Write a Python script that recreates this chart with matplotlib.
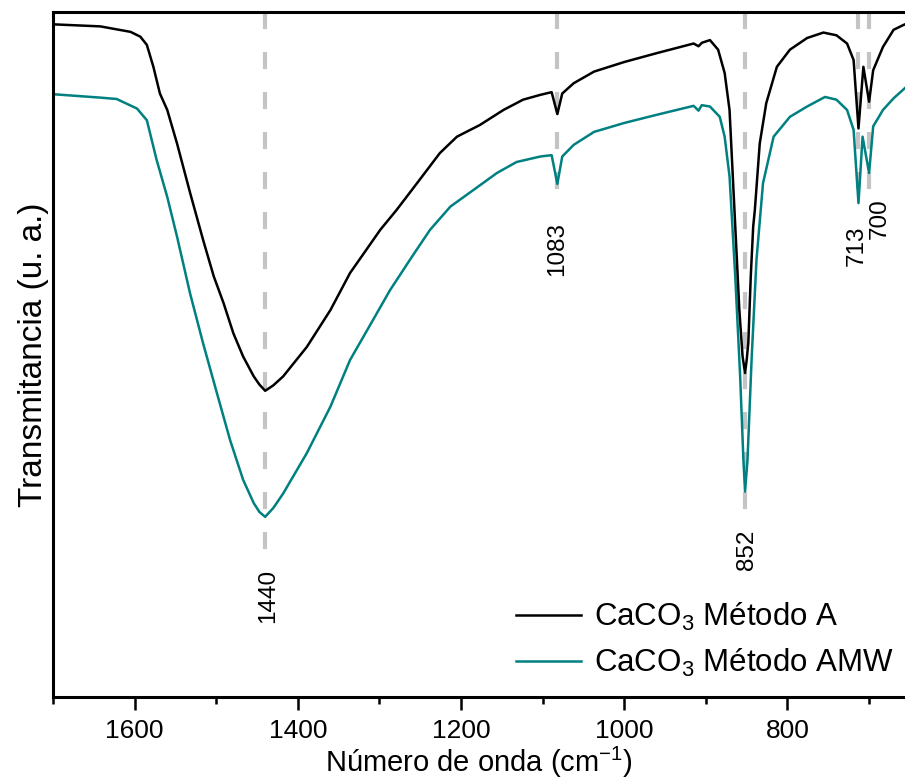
import matplotlib
matplotlib.use("Agg")
import matplotlib.pyplot as plt
from matplotlib.ticker import MultipleLocator

plt.rcParams['font.family'] = ['Liberation Sans', 'DejaVu Sans']
plt.rcParams['mathtext.fontset'] = 'custom'
plt.rcParams['mathtext.rm'] = 'Liberation Sans'
plt.rcParams['mathtext.it'] = 'Liberation Sans:italic'

# Wavenumbers (cm^-1) and transmittance (a.u.)
wn_a = [1700, 1642, 1605, 1593, 1585, 1577, 1569, 1560, 1548, 1532, 1516, 1503, 1491,
        1479, 1467, 1454, 1447, 1440, 1430, 1418, 1389, 1360, 1336, 1316, 1299, 1279, 1254, 1226, 1205,
        1177, 1148, 1124, 1103, 1089, 1082, 1076, 1062, 1037, 1000, 960, 915, 909, 905,
        895, 885, 877, 871, 867, 863, 859, 855, 852, 850, 848, 845, 842, 840, 834, 826,
        813, 797, 776, 756, 740, 727, 719, 713, 707, 700, 695, 683, 670, 658, 656]
tr_a = [98.2, 97.9, 97.1, 96.4, 95.2, 92.0, 88.1, 85.7, 80.8, 73.6, 66.7, 61.4, 57.5,
        53.1, 49.7, 46.8, 45.6, 44.7, 45.5, 46.8, 51.1, 56.5, 61.9, 65.3, 68.2, 71.1, 75.0, 79.4, 81.8,
        83.5, 85.7, 87.2, 87.9, 88.3, 85.1, 88.1, 89.6, 91.3, 92.7, 94.0, 95.4, 95.0, 95.5,
        95.9, 94.5, 91.1, 85.7, 76.0, 66.3, 56.5, 49.7, 47.3, 49.2, 51.7, 61.4, 68.7, 71.1, 80.8, 86.7,
        92.0, 94.5, 96.2, 97.0, 96.6, 95.4, 93.0, 83.0, 92.0, 86.9, 91.5, 94.9, 97.4, 98.1, 98.2]

wn_amw = [1700, 1642, 1622, 1597, 1585, 1573, 1560, 1548, 1532, 1516, 1499, 1483, 1467,
          1454, 1447, 1440, 1430, 1418, 1389, 1360, 1336, 1310, 1287, 1260, 1238, 1213, 1185, 1156, 1132, 1103,
          1089, 1082, 1076, 1062, 1037, 1000, 960, 915, 909, 905, 895, 883, 877, 871,
          864, 858, 854, 852, 849, 844, 838, 830, 817, 797, 776, 754, 740, 727, 719,
          713, 708, 700, 695, 683, 670, 656]
tr_amw = [88.0, 87.5, 87.3, 85.9, 84.2, 78.4, 73.0, 67.2, 58.9, 51.6, 44.3, 37.5, 31.7,
          28.3, 27.0, 26.3, 27.6, 29.7, 35.6, 42.4, 49.2, 54.6, 59.4, 64.3, 68.2, 71.6, 74.0, 76.5, 78.1, 78.9,
          79.1, 74.9, 78.9, 80.6, 82.5, 83.8, 85.0, 86.3, 85.6, 86.4, 86.2, 84.7, 81.8, 76.0,
          61.4, 46.8, 34.6, 30.0, 34.6, 49.2, 63.8, 75.0, 81.8, 84.7, 86.2, 87.6, 87.2, 85.7, 82.8,
          72.1, 81.8, 76.5, 83.3, 85.7, 87.4, 88.9]

peak_pos = [1440, 1083, 852, 713, 700]
peak_labels = ['1440', '1083', '852', '713', '700']
line_bottom = [20.0, 73.7, 26.6, 71.8, 73.3]
label_x = [1436, 1082, 850, 715, 687]
label_top = [18.7, 69.3, 24.4, 68.9, 72.8]

series_labels = ['CaCO$_3$ Método A', 'CaCO$_3$ Método AMW']
colors = ['black', '#008080']

fig = plt.figure(figsize=(9.05, 7.8), dpi=100)
ax = fig.add_axes([53/905, 1-697/780, 1-53/905, (697-12)/780])

for p, b in zip(peak_pos, line_bottom):
    ax.plot([p, p], [100, b], color='#c4c4c4', lw=3, linestyle=(0, (4.1, 5.5)), zorder=1)

ax.plot(wn_a, tr_a, color=colors[0], lw=1.8, label=series_labels[0], zorder=3)
ax.plot(wn_amw, tr_amw, color=colors[1], lw=1.8, label=series_labels[1], zorder=2)

for lx, lt, txt in zip(label_x, label_top, peak_labels):
    ax.text(lx, lt, txt, rotation=90, ha='center', va='top', fontsize=17.5)

ax.set_xlim(1700, 656)
ax.set_ylim(0, 100)
ax.xaxis.set_major_locator(MultipleLocator(200))
ax.xaxis.set_minor_locator(MultipleLocator(100))
ax.set_yticks([])
ax.tick_params(axis='x', which='major', direction='out', length=9, width=1.8,
               labelsize=19, pad=7)
ax.tick_params(axis='x', which='minor', direction='out', length=5, width=1.8)
for s in ['left', 'bottom', 'top']:
    ax.spines[s].set_linewidth(2.2)
ax.spines['right'].set_visible(False)

ax.set_xlabel('Número de onda (cm$^{-1}$)', fontsize=21, labelpad=1)
ax.set_ylabel('Transmitancia (u. a.)', fontsize=24, labelpad=3)

ax.legend(loc='lower right', frameon=False, fontsize=22.5, handlelength=2.1,
          handletextpad=0.4, labelspacing=0.45, bbox_to_anchor=(1.02, -0.015))

fig.savefig('out.png', dpi=100)
